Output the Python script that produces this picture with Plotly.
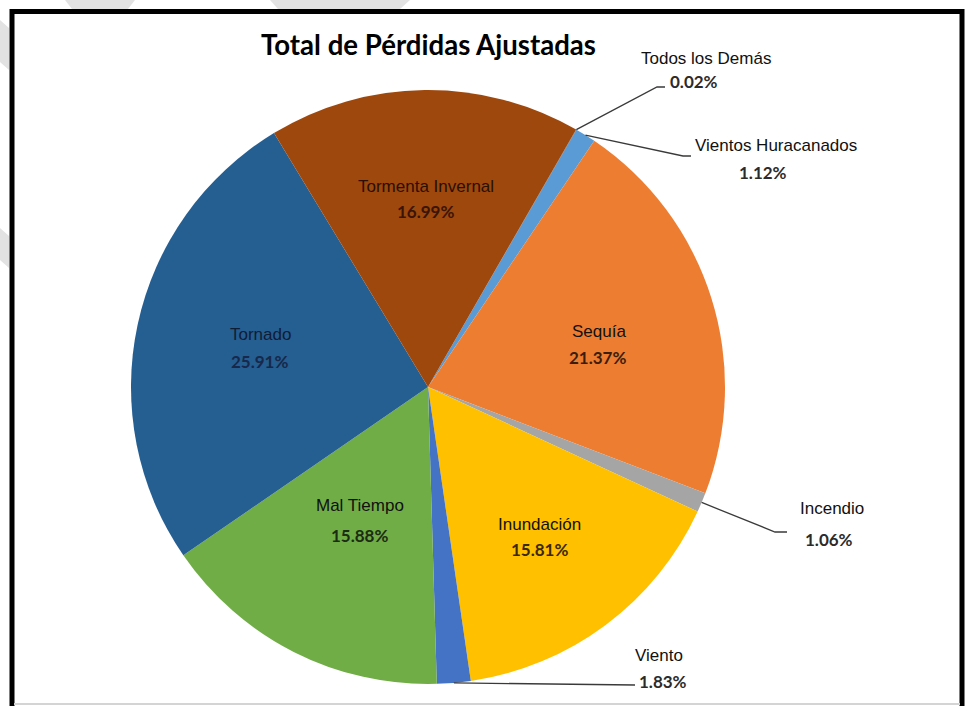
import math
import plotly.graph_objects as go

# ---------------- data ----------------
labels = ["Vientos Huracanados", "Sequía", "Incendio", "Inundación", "Viento",
          "Mal Tiempo", "Tornado", "Tormenta Invernal", "Todos los Demás"]
values = [1.12, 21.37, 1.06, 15.81, 1.83, 15.88, 25.91, 16.99, 0.02]
title_text = "Total de Pérdidas Ajustadas"

# ---------------- styles / layout ----------------
colors = ["#5B9BD5", "#ED7D31", "#A5A5A5", "#FFC000", "#4472C4",
          "#70AD47", "#255E91", "#9E480E", "#636363"]
pct_colors = {"Tormenta Invernal": "#3a1406", "Tornado": "#17284a", "Sequía": "#3b1d0c",
              "Mal Tiempo": "#1c2c12", "Inundación": "#3a2808"}
lbl_colors = {"Tormenta Invernal": "#2a0f02", "Tornado": "#0f1c36"}

W, H = 966, 706
CX, CY, R = 428, 387, 297
ROT = 30

# label centres (pixels): (name line, percent line)
label_pos = {
    "Tormenta Invernal": ((426, 186), (425, 211)),
    "Tornado": ((260, 334), (259, 362)),
    "Sequía": ((599, 331), (597, 357)),
    "Mal Tiempo": ((360, 505), (359, 535)),
    "Inundación": ((539, 524), (539, 549)),
    "Incendio": ((832, 508), (829, 539)),
    "Viento": ((659, 655), (663, 681)),
    "Todos los Demás": ((706, 58), (694, 82)),
    "Vientos Huracanados": ((776, 145), (763, 173)),
}
# leader line routing after the slice edge point (pixels)
leader_route = {
    "Todos los Demás": [(657, 87), (665, 87)],
    "Vientos Huracanados": [(683, 156), (691, 156)],
    "Incendio": [(775, 532), (787, 532)],
    "Viento": [(635, 685)],
}


def px(x):
    return x / W


def py(y):
    return 1 - y / H


fig = go.Figure(go.Pie(
    labels=labels, values=values, sort=False, direction="clockwise", rotation=ROT,
    marker=dict(colors=colors, line=dict(width=0)),
    textinfo="none", hoverinfo="label+percent", showlegend=False,
    domain=dict(x=[px(CX - R), px(CX + R)], y=[py(CY + R), py(CY - R)]),
))

# slice mid angles from the data (clockwise from 12 o'clock)
total = sum(values)
mid_angle = {}
acc = 0.0
for lab, v in zip(labels, values):
    mid_angle[lab] = ROT + (acc + v / 2) / total * 360
    acc += v

annotations = []
for lab, v in zip(labels, values):
    (lx, ly), (qx, qy) = label_pos[lab]
    annotations.append(dict(
        x=px(lx), y=py(ly), xref="paper", yref="paper", xanchor="center", yanchor="middle",
        text=lab, showarrow=False,
        font=dict(family="Liberation Sans, Arial", size=17, color=lbl_colors.get(lab, "#111111"))))
    annotations.append(dict(
        x=px(qx), y=py(qy), xref="paper", yref="paper", xanchor="center", yanchor="middle",
        text="<b>%.2f%%</b>" % v, showarrow=False,
        font=dict(family="Lato, Carlito, Calibri", size=17, color=pct_colors.get(lab, "#2b2b2b"))))

annotations.append(dict(
    x=px(428), y=py(45), xref="paper", yref="paper", xanchor="center", yanchor="middle",
    text="<b>%s</b>" % title_text, showarrow=False,
    font=dict(family="Lato, Carlito, Calibri", size=27.6, color="#000000")))

shapes = []
# leader lines
for lab, route in leader_route.items():
    a = math.radians(mid_angle[lab])
    ex, ey = CX + R * math.sin(a), CY - R * math.cos(a)
    pts = [(ex, ey)] + route
    path = "M %.5f %.5f " % (px(pts[0][0]), py(pts[0][1])) + " ".join(
        "L %.5f %.5f" % (px(x), py(y)) for x, y in pts[1:])
    shapes.append(dict(type="path", xref="paper", yref="paper", path=path,
                       line=dict(color="#3a3a3a", width=1.3)))

# faint watermark stripes outside the frame
stripes = [
    [(65, 0), (135, 0), (128, 9), (72, 9)],
    [(270, 0), (410, 0), (400, 9), (278, 9)],
    [(0, 20), (9, 28), (9, 70), (0, 62)],
    [(0, 228), (9, 236), (9, 268), (0, 260)],
]
for poly in stripes:
    path = "M " + " L ".join("%.5f %.5f" % (px(x), py(y)) for x, y in poly) + " Z"
    shapes.append(dict(type="path", xref="paper", yref="paper", path=path,
                       fillcolor="#e2e2e2", line=dict(width=0), layer="below"))

# black frame (bottom edge lies outside the picture)
shapes.append(dict(type="rect", xref="paper", yref="paper",
                   x0=px(12), x1=px(962), y0=py(740), y1=py(11.5),
                   line=dict(color="#000000", width=5)))
# light grey line near the bottom edge
shapes.append(dict(type="line", xref="paper", yref="paper",
                   x0=px(14), x1=px(960), y0=py(704), y1=py(704),
                   line=dict(color="#d4d4d4", width=2)))

fig.update_layout(
    width=W, height=H, margin=dict(l=0, r=0, t=0, b=0),
    paper_bgcolor="white", plot_bgcolor="white",
    annotations=annotations, shapes=shapes,
)

fig.write_html("out.html")
